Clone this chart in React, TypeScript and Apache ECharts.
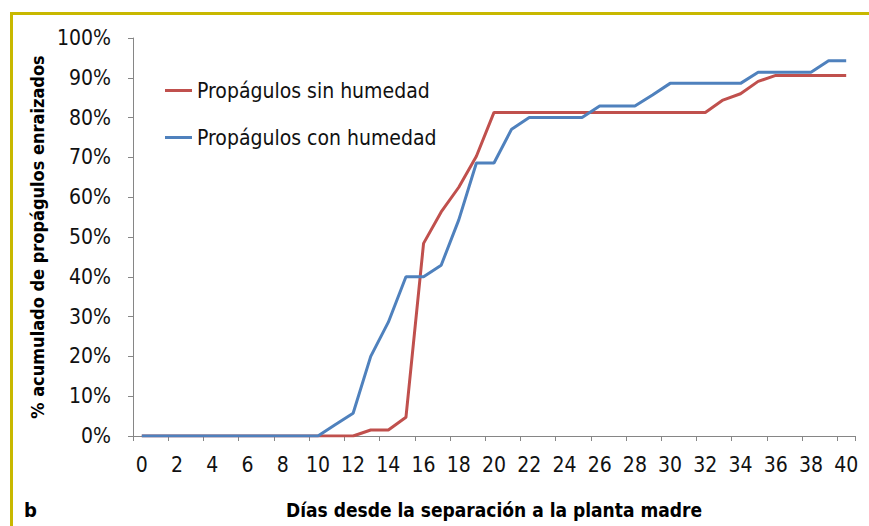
import React, { useEffect, useRef } from "react";
import * as echarts from "echarts";

const days = [
  "0", "1", "2", "3", "4", "5", "6", "7", "8", "9", "10",
  "11", "12", "13", "14", "15", "16", "17", "18", "19", "20",
  "21", "22", "23", "24", "25", "26", "27", "28", "29", "30",
  "31", "32", "33", "34", "35", "36", "37", "38", "39", "40",
];

const sinHumedad = [
  0, 0, 0, 0, 0, 0, 0, 0, 0, 0, 0,
  0, 0, 1.5, 1.5, 4.7, 48.4, 56.3, 62.5, 70.3, 81.3,
  81.3, 81.3, 81.3, 81.3, 81.3, 81.3, 81.3, 81.3, 81.3, 81.3,
  81.3, 81.3, 84.4, 86.0, 89.1, 90.6, 90.6, 90.6, 90.6, 90.6,
];

const conHumedad = [
  0, 0, 0, 0, 0, 0, 0, 0, 0, 0, 0,
  2.9, 5.7, 20.0, 28.6, 40.0, 40.0, 42.9, 54.3, 68.6, 68.6,
  77.1, 80.0, 80.0, 80.0, 80.0, 82.9, 82.9, 82.9, 85.7, 88.6,
  88.6, 88.6, 88.6, 88.6, 91.4, 91.4, 91.4, 91.4, 94.3, 94.3,
];

const seriesNames = ["Propágulos sin humedad", "Propágulos con humedad"];
const yTitle = "% acumulado de propágulos enraizados";
const xTitle = "Días desde la separación a la planta madre";
const panelLabel = "b";

const NARROW = '"Liberation Sans Narrow", "DejaVu Sans Condensed", "Liberation Sans", sans-serif';

export default function App() {
  const ref = useRef<HTMLDivElement>(null);
  useEffect(() => {
    document.body.style.margin = "0";
    const chart = echarts.init(ref.current!, null, { renderer: "svg" });
    chart.setOption({
      animation: false,
      backgroundColor: "#ffffff",
      textStyle: { fontFamily: NARROW },
      grid: { left: 133, top: 38, right: 14, bottom: 90, containLabel: false },
      legend: {
        orient: "vertical",
        left: 160,
        top: 75,
        itemGap: 26,
        itemWidth: 27,
        itemHeight: 3,
        itemTextGap: 5,
        icon: "rect",
        data: seriesNames,
        textStyle: { fontSize: 21, color: "#111", fontFamily: NARROW },
      },
      xAxis: {
        type: "category",
        data: days,
        boundaryGap: true,
        axisLine: { lineStyle: { color: "#868686", width: 1 } },
        axisTick: { show: true, interval: 1, length: 5, lineStyle: { color: "#868686" } },
        axisLabel: { interval: 1, fontSize: 21, color: "#111", margin: 18, fontFamily: NARROW },
        splitLine: { show: false },
        name: xTitle,
        nameLocation: "middle",
        nameGap: 64,
        nameTextStyle: { fontSize: 19, fontWeight: "bold", color: "#000", fontFamily: NARROW },
      },
      yAxis: {
        type: "value",
        min: 0,
        max: 100,
        interval: 10,
        axisLine: { show: true, lineStyle: { color: "#868686", width: 1 } },
        axisTick: { show: true, length: 5, lineStyle: { color: "#868686" } },
        axisLabel: { formatter: "{value}%", fontSize: 21, color: "#111", margin: 22, fontFamily: NARROW },
        splitLine: { show: false },
        name: yTitle,
        nameLocation: "middle",
        nameRotate: 90,
        nameGap: 87,
        nameTextStyle: { fontSize: 18, fontWeight: "bold", color: "#000", fontFamily: NARROW, padding: [0, 0, 0, 0] },
      },
      series: [
        {
          name: seriesNames[0],
          type: "line",
          data: sinHumedad,
          showSymbol: false,
          symbol: "none",
          lineStyle: { color: "#C0504D", width: 3 },
          itemStyle: { color: "#C0504D" },
        },
        {
          name: seriesNames[1],
          type: "line",
          data: conHumedad,
          showSymbol: false,
          symbol: "none",
          lineStyle: { color: "#4F81BD", width: 3 },
          itemStyle: { color: "#4F81BD" },
        },
      ],
      graphic: [
        {
          type: "rect",
          shape: { x: 11.5, y: 13.5, width: 900, height: 600 },
          style: { fill: "none", stroke: "#C8B800", lineWidth: 3 },
          silent: true,
        },
        {
          type: "text",
          left: 24,
          top: 500,
          style: { text: panelLabel, fill: "#000", font: `bold 20px ${NARROW}` },
        },
      ],
    });
    return () => chart.dispose();
  }, []);
  return (
    <div style={{ position: "absolute", left: 0, top: 0, width: 869, height: 526 }}>
      <div ref={ref} style={{ width: 869, height: 526 }} />
    </div>
  );
}
